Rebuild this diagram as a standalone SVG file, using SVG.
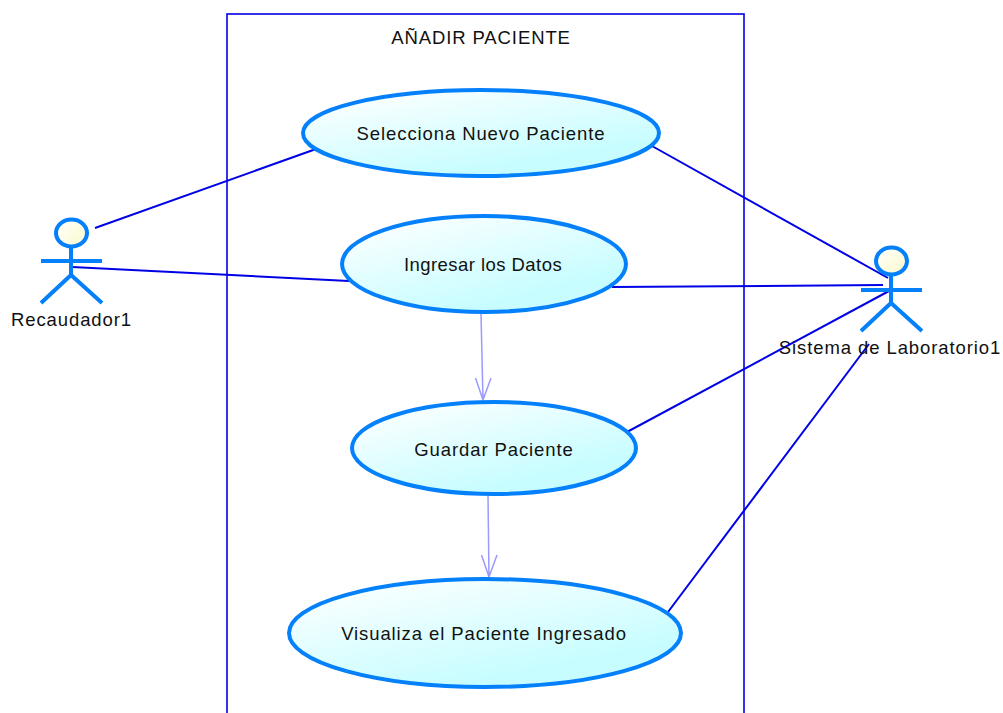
<svg xmlns="http://www.w3.org/2000/svg" width="1003" height="713" viewBox="0 0 1003 713">
<style>
text{font-family:"Liberation Sans",Arial,sans-serif;font-size:18.5px;letter-spacing:.9px;fill:#111;text-anchor:middle}
.uc{fill:url(#ug);stroke:#0480fb;stroke-width:4}
.assoc{stroke:#0000e6;stroke-width:2;fill:none}
.dep{stroke:#9a9aff;stroke-width:1.5;fill:none}
.actor{fill:none;stroke:#0480fb;stroke-width:4}
.head{fill:url(#hg);stroke:#0480fb;stroke-width:4}
</style>
<defs>
<linearGradient id="ug" x1="0.1" y1="0" x2="0.8" y2="1"><stop offset="0" stop-color="#fff"/><stop offset="0.8" stop-color="#c8fdff"/></linearGradient>
<linearGradient id="hg" x1="0" y1="0" x2="1" y2="1"><stop offset="0" stop-color="#fff"/><stop offset="1" stop-color="#fbf9c8"/></linearGradient>
</defs>
<rect id="boundary" x="227" y="14" width="517" height="720" fill="#fff" stroke="#0000e6" stroke-width="1.6"/>
<text x="481" y="44">AÑADIR PACIENTE</text>
<g id="connectors">
<line class="assoc" x1="95" y1="228" x2="316" y2="149"/>
<line class="assoc" x1="72" y1="267" x2="349" y2="281"/>
<line class="assoc" x1="652" y1="146" x2="888" y2="278"/>
<line class="assoc" x1="612" y1="287" x2="883" y2="285"/>
<line class="assoc" x1="627" y1="432" x2="889" y2="291"/>
<line class="assoc" x1="668" y1="612" x2="869" y2="344"/>
<path class="dep" d="M481 314L483 400M475.500 378L483 400L491 378"/>
<path class="dep" d="M488 496L489 577M481.500 555L489 577L497 555"/>
</g>
<g id="uc1"><ellipse class="uc" cx="481" cy="133" rx="178" ry="43"/><text x="481" y="140">Selecciona Nuevo Paciente</text></g>
<g id="uc2"><ellipse class="uc" cx="484" cy="264" rx="142" ry="48"/><text x="483" y="271" style="letter-spacing:.45px">Ingresar los Datos</text></g>
<g id="uc3"><ellipse class="uc" cx="494" cy="448" rx="142" ry="46"/><text x="494" y="456">Guardar Paciente</text></g>
<g id="uc4"><ellipse class="uc" cx="485" cy="633" rx="196" ry="54"/><text x="484" y="640">Visualiza el Paciente Ingresado</text></g>
<g id="actor1"><ellipse class="head" cx="71.500" cy="233" rx="15.500" ry="13.500"/><path class="actor" d="M71 248V275M41 261H102M41 303L71 275L102 303"/><text x="71.500" y="326">Recaudador1</text></g>
<g id="actor2"><ellipse class="head" cx="891.500" cy="261" rx="15.500" ry="13.500"/><path class="actor" d="M891 276V303M861 290H922M861 331L891 303L922 331"/><text x="890" y="354">Sistema de Laboratorio1</text></g>
</svg>
